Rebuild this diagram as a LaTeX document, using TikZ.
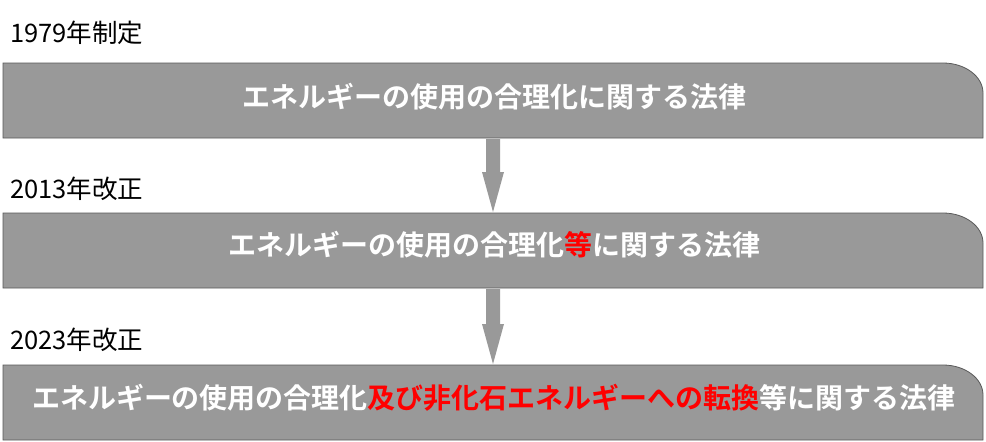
\documentclass[tikz,border=0pt]{standalone}
\usepackage{fontspec}
\setmainfont{Noto Sans CJK JP}
\newfontfamily\jpb{Noto Sans CJK JP Bold}
\begin{document}
\begin{tikzpicture}[x=1pt,y=-1pt,
  lawbox/.style={fill=black!40,draw=black!65,line width=0.8pt},
  lawtext/.style={text=white,font=\jpb\fontsize{28}{30}\selectfont,inner sep=0pt},
  yeartext/.style={anchor=west,font=\fontsize{25.5}{28}\selectfont,inner sep=0pt},
  bigarrow/.style={fill=black!40,draw=none}]
\useasboundingbox (0,0) rectangle (986,442);
\foreach \n/\t in {1/63,2/213,3/365}{
  \path[lawbox] (3,\t+75) -- (3,\t) -- (943,\t) arc[start angle=90,end angle=0,x radius=40,y radius=-30] -- (983,\t+75) -- cycle;
}
\node[lawtext] (l1) at (494,97) {エネルギーの使用の合理化に関する法律};
\node[lawtext] (l2) at (494,245) {エネルギーの使用の合理化{\color{red}等}に関する法律};
\node[lawtext] (l3) at (494,398) {エネルギーの使用の合理化{\color{red}及び非化石エネルギーへの転換}等に関する法律};
\node[yeartext] (y1) at (10,33) {1979年制定};
\node[yeartext] (y2) at (10,189) {2013年改正};
\node[yeartext] (y3) at (10,340) {2023年改正};
\path[bigarrow] (486,139) -- (500,139) -- (500,172) -- (504,172) -- (493,212) -- (482,172) -- (486,172) -- cycle;
\path[bigarrow] (486,289) -- (500,289) -- (500,324) -- (504,324) -- (493,364) -- (482,324) -- (486,324) -- cycle;
\end{tikzpicture}
\end{document}
